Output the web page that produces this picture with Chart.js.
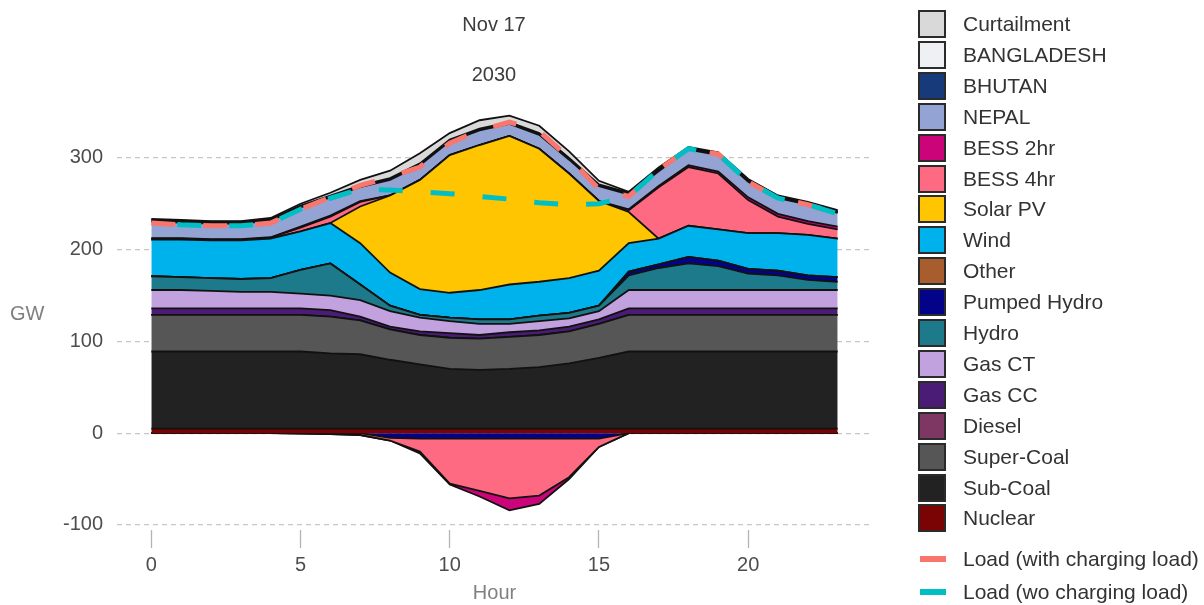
<!DOCTYPE html>
<html lang="en">
<head>
  <meta charset="UTF-8">
  <title>Nov 17 - 2030 dispatch</title>
  <script src="https://cdn.jsdelivr.net/npm/chart.js"></script>
  <style>
    body { margin: 0; background: #fff; font-family: "Liberation Sans", Arial, sans-serif; }
    #wrap { position: relative; width: 1204px; height: 605px; overflow: hidden; }
    #chartBox { position: absolute; left: 0; top: 0; width: 1204px; height: 605px; }
    .head { position: absolute; left: 394px; width: 200px; text-align: center; font-size: 20px; line-height: 24px; color: #3c3c3c; }
    #ylab { position: absolute; left: 10px; top: 301px; font-size: 20px; line-height: 24px; color: #7f7f7f; }
    #legend { position: absolute; left: 918px; top: 0; width: 286px; height: 605px; }
    .item { position: absolute; left: 0; width: 286px; height: 28px; }
    .box { position: absolute; left: 0; top: 0; width: 28px; height: 28px; box-sizing: border-box; border: 2px solid #2b2b2b; }
    .dash { position: absolute; left: 2px; top: 11px; width: 26px; height: 6px; }
    .txt { position: absolute; left: 45px; top: 2px; font-size: 21px; line-height: 24px; color: #333; white-space: nowrap; }
  </style>
</head>
<body>
  <div id="wrap">
    <div id="chartBox"><canvas id="genChart"></canvas></div>
    <div class="head" style="top:12px">Nov 17</div>
    <div class="head" style="top:62px">2030</div>
    <div id="ylab">GW</div>
    <div id="legend"></div>
  </div>

  <script>
    // hours of the day
    const hours = [0,1,2,3,4,5,6,7,8,9,10,11,12,13,14,15,16,17,18,19,20,21,22,23];
    const xTicks = [0, 5, 10, 15, 20];
    const yTicks = [-100, 0, 100, 200, 300];

    // generation (GW), stacked bottom-up
    const nuclear     = [5,5,5,5,5,5,5,5,5,5,5,5,5,5,5,5,5,5,5,5,5,5,5,5];
    const subCoal     = [84,84,84,84,84,84,82,81,75,70,65,64,65,67,71,77,84,84,84,84,84,84,84,84];
    const superCoal   = [40,40,40,40,40,40,40,37,33,32,34,34,35,35,35,37,40,40,40,40,40,40,40,40];
    const diesel      = [0,0,0,0,0,0,0,0,0,0,0,0,0,0,0,0,0,0,0,0,0,0,0,0];
    const gasCC       = [7,7,7,7,7,7,7,4,3,4,5,4,5,5,5,5,7,7,7,7,7,7,7,7];
    const gasCT       = [20,20,19,18,18,16,16,18,17,15,13,12,9,10,9,9,20,20,20,20,20,20,20,20];
    const hydro       = [15,14,14,14,15,26,35,17,6,3,4,5,5,6,6,6,16,24,29,26,18,16,11,9];
    const pumpedHydro = [0,0,0,0,0,0,0,0,0,0,0,0,0,0,0,0,4,4,7,6,5,5,5,5];
    const other       = [0,0,0,0,0,0,0,0,0,0,0,0,0,0,0,0,0,0,0,0,0,0,0,0];
    const wind        = [40,41,41,42,43,42,44,45,36,28,27,32,38,37,38,38,31,28,34,34,39,41,44,42];
    const solar       = [0,0,0,0,0,0,0,40,84,119,150,158,162,145,114,76,34,0,0,0,0,0,0,0];
    const bess4       = [1,1,1,1,1,4,7,5,0,0,0,0,0,0,0,0,2,56,64,61,36,18,12,10];
    const bess2       = [0.5,0.5,0.5,0.5,0.5,1,1,1,0,0,0,0,0,0,0,0,1,1.5,2,2,3,3,3,3];
    const nepal       = [18,17,17,17,18,21,20,15,17,16,15,16,13,15,15,16,16,16,17,18,17,17,18,15];
    const bhutan      = [1,1,1,1,1,1,1,1,1,1,1,1,1,1,1,1,1,1,1,1,1,1,1,1];
    const bangladesh  = [1,1,1,1,1,1,1,1,1,1,1,1,1,1,1,1,1,1,1,1,1,1,1,1];
    const curtailment = [1,1,0.5,0.5,1,2,3,6,8,11,7,9,7,8,7,4,1,2,1,1,1,1,1,1];

    // charging (GW, negative)
    const pumpedCharge = [0,0,0,0,0,0,0,0,-5,-6,-6,-6,-6,-6,-6,-6,0,0,0,0,0,0,0,0];
    const bess4Charge  = [0,0,0,0,0,-0.5,-1,-2,-3,-14,-49,-57,-65,-62,-42,-9,0,0,0,0,0,0,0,0];
    const bess2Charge  = [0,0,0,0,0,0,0,0,0,-2,-1,-6,-13,-9,-2,0,0,0,0,0,0,0,0,0];

    // load lines
    const loadWith = [229,227,226,226,229,244,257,270,279,290,316,330,339,329,300,266,258,287,310,304,274,256,249,239];
    const loadWo   = [229,227,226,226,229,244,256,266,265,263,261,258,255,251,249,250,258,287,310,304,274,256,249,239];

    const stackNames  = ['Nuclear','Sub-Coal','Super-Coal','Diesel','Gas CC','Gas CT','Hydro','Pumped Hydro','Other','Wind','Solar PV','BESS 4hr','BESS 2hr','NEPAL','BHUTAN','BANGLADESH','Curtailment'];
    const stackValues = [nuclear, subCoal, superCoal, diesel, gasCC, gasCT, hydro, pumpedHydro, other, wind, solar, bess4, bess2, nepal, bhutan, bangladesh, curtailment];
    const stackColors = ['#7a0303','#222222','#565656','#7e3762','#4b1c76','#c2a2de','#1d7a8a','#03038a','#a85d2e','#00b2ec','#fec500','#fd6a81','#cc0479','#93a3d3','#173a7a','#eef0f4','#d9d9d9'];

    const chargeNames  = ['Pumped Hydro', 'BESS 4hr', 'BESS 2hr'];
    const chargeValues = [pumpedCharge, bess4Charge, bess2Charge];
    const chargeColors = ['#03038a', '#fd6a81', '#cc0479'];

    const loadNames  = ['Load (with charging load)', 'Load (wo charging load)'];
    const loadValues = [loadWith, loadWo];
    const loadColors = ['#f8766d', '#00bfc4'];

    const datasets = [];
    stackNames.forEach((name, i) => {
      datasets.push({
        label: name, data: stackValues[i], stack: 'supply',
        backgroundColor: stackColors[i], borderColor: '#111', borderWidth: 1.8,
        fill: i === 0 ? 'origin' : '-1', pointRadius: 0, tension: 0
      });
    });
    chargeNames.forEach((name, i) => {
      datasets.push({
        label: name + ' (charge)', data: chargeValues[i], stack: 'charge',
        backgroundColor: chargeColors[i], borderColor: '#111', borderWidth: 1.8,
        fill: i === 0 ? 'origin' : '-1', pointRadius: 0, tension: 0
      });
    });
    loadNames.forEach((name, i) => {
      datasets.push({
        label: name, data: loadValues[i], stack: 'load' + i,
        borderColor: loadColors[i], borderWidth: 5, borderDash: [24, 28], borderDashOffset: i === 0 ? 0 : 26,
        fill: false, pointRadius: 0, tension: 0, order: -1 - i
      });
    });

    Chart.defaults.font.family = '"Liberation Sans", Arial, sans-serif';
    Chart.defaults.font.size = 20;

    new Chart(document.getElementById('genChart'), {
      type: 'line',
      data: { labels: hours, datasets },
      options: {
        responsive: true,
        maintainAspectRatio: false,
        animation: false,
        layout: { padding: { left: 0, right: 332, top: 95, bottom: 0 } },
        plugins: { legend: { display: false }, tooltip: { enabled: false } },
        scales: {
          x: {
            type: 'linear', min: -1.15, max: 24.15,
            afterBuildTicks: axis => { axis.ticks = xTicks.map(v => ({ value: v })); },
            afterFit: axis => { axis.height = 75; },
            grid: { display: true, drawOnChartArea: false, drawTicks: true, tickLength: 18, tickColor: '#b3b3b3', tickWidth: 1.3 },
            border: { display: false },
            ticks: { color: '#4d4d4d', padding: 5, font: { size: 20 } },
            title: { display: true, text: 'Hour', color: '#808080', font: { size: 20 }, padding: { top: 0, bottom: 0 } }
          },
          y: {
            stacked: true, min: -105.5, max: 368.5,
            afterBuildTicks: axis => { axis.ticks = yTicks.map(v => ({ value: v })); },
            afterFit: axis => { axis.width = 117; },
            grid: { color: '#c6c6c6', lineWidth: 1.2, drawTicks: false },
            border: { display: false, dash: [5, 4] },
            ticks: { color: '#4d4d4d', padding: 14, font: { size: 20 } }
          }
        }
      }
    });

    // legend, top to bottom = stack order reversed, then the load lines
    const legend = document.getElementById('legend');
    const rows = stackNames.map((n, i) => ({ name: n, color: stackColors[i] })).reverse();
    rows.forEach((r, i) => {
      const div = document.createElement('div');
      div.className = 'item';
      div.style.top = (10 + i * 30.9) + 'px';
      div.innerHTML = `<div class="box" style="background:${r.color}"></div><div class="txt">${r.name}</div>`;
      legend.appendChild(div);
    });
    loadNames.forEach((n, i) => {
      const div = document.createElement('div');
      div.className = 'item';
      div.style.top = (545 + i * 33) + 'px';
      div.innerHTML = `<div class="dash" style="background:${loadColors[i]}"></div><div class="txt">${n}</div>`;
      legend.appendChild(div);
    });
  </script>
</body>
</html>
